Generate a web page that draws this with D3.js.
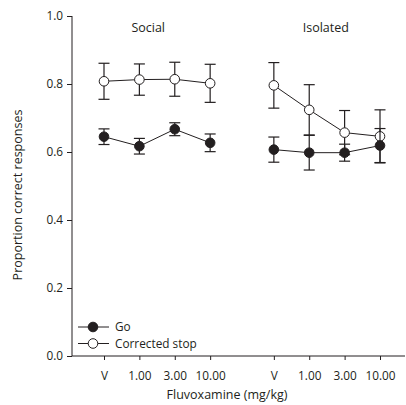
<!DOCTYPE html>
<html><head><meta charset="utf-8">
<script src="https://cdn.jsdelivr.net/npm/d3@7"></script>
<style>body{margin:0;background:#fff}svg{display:block;font-family:"Open Sans",sans-serif}</style>
</head><body><svg id="c" width="406" height="405"></svg>
<script>
const groups = ["Social", "Isolated"];
const doses = ["V", "1.00", "3.00", "10.00"];
const goMean = [[0.645, 0.617, 0.667, 0.627], [0.607, 0.598, 0.598, 0.619]];
const goErr = [[0.023, 0.023, 0.019, 0.026], [0.037, 0.051, 0.025, 0.050]];
const stopMean = [[0.808, 0.813, 0.814, 0.802], [0.796, 0.724, 0.657, 0.646]];
const stopErr = [[0.053, 0.046, 0.050, 0.056], [0.067, 0.074, 0.065, 0.078]];
const yTicks = [0, 0.2, 0.4, 0.6, 0.8, 1.0];
const groupGap = 1.8;
const titleOffset = [1.25, 1.47];

const svg = d3.select("#c");
const ink = "#231f20";
const y = d3.scaleLinear().domain([0, 1]).range([356, 16]);
const x = d3.scaleLinear().domain([0, 3 + groupGap + 3]).range([104, 380]);
const pos = (g, i) => g * (3 + groupGap) + i;

// y axis
const ya = svg.append("g").attr("transform", "translate(72,0)")
  .call(d3.axisLeft(y).tickValues(yTicks).tickFormat(d3.format(".1f")).tickSize(5).tickPadding(4));
ya.select(".domain").attr("d", `M0,${y(1)}V${y(0)}`);
// x axis
const xa = svg.append("g").attr("transform", `translate(0,${y(0)})`)
  .call(d3.axisBottom(x).tickValues(d3.range(8).map(k => pos(Math.floor(k / 4), k % 4)))
    .tickFormat((d, k) => doses[k % 4]).tickSize(4).tickPadding(12));
xa.select(".domain").attr("d", `M72,0H405`);
svg.selectAll(".tick text").attr("font-size", 11.8).attr("font-family", "Open Sans").attr("fill", ink);
svg.selectAll(".tick line, .domain").attr("stroke", ink);

// titles
svg.append("text").attr("x", 227).attr("y", 399).attr("text-anchor", "middle")
  .attr("font-size", 12.5).attr("fill", ink).text("Fluvoxamine (mg/kg)");
svg.append("text").attr("transform", `translate(22,195) rotate(-90)`).attr("text-anchor", "middle")
  .attr("font-size", 12.5).attr("fill", ink).text("Proportion correct responses");
groups.forEach((g, gi) => {
  svg.append("text").attr("x", x(pos(gi, titleOffset[gi]))).attr("y", 32).attr("text-anchor", "middle")
    .attr("font-size", 12.5).attr("fill", ink).text(g);
});

function series(means, errs, fill) {
  groups.forEach((g, gi) => {
    const pts = doses.map((d, i) => ({ x: x(pos(gi, i)), m: means[gi][i], e: errs[gi][i] }));
    svg.append("path").attr("d", d3.line().x(p => p.x).y(p => y(p.m))(pts))
      .attr("fill", "none").attr("stroke", ink).attr("stroke-width", 1);
    pts.forEach(p => {
      const eb = svg.append("g").attr("stroke", ink).attr("stroke-width", 1.2);
      eb.append("line").attr("x1", p.x).attr("x2", p.x).attr("y1", y(p.m + p.e)).attr("y2", y(p.m - p.e));
      [p.m + p.e, p.m - p.e].forEach(v => eb.append("line").attr("x1", p.x - 5.5).attr("x2", p.x + 5.5)
        .attr("y1", y(v)).attr("y2", y(v)));
    });
    pts.forEach(p => svg.append("circle").attr("cx", p.x).attr("cy", y(p.m)).attr("r", 4.8)
      .attr("fill", fill).attr("stroke", ink).attr("stroke-width", 1));
  });
}
series(stopMean, stopErr, "#fff");
series(goMean, goErr, ink);

// legend
const legend = [{ label: "Go", fill: ink }, { label: "Corrected stop", fill: "#fff" }];
legend.forEach((l, i) => {
  const ly = 327 + i * 16.5;
  svg.append("line").attr("x1", 78).attr("x2", 109).attr("y1", ly).attr("y2", ly).attr("stroke", ink);
  svg.append("circle").attr("cx", 93).attr("cy", ly).attr("r", 4.8).attr("fill", l.fill).attr("stroke", ink);
  svg.append("text").attr("x", 115).attr("y", ly + 4).attr("font-size", 11.8).attr("fill", ink).text(l.label);
});
</script></body></html>
